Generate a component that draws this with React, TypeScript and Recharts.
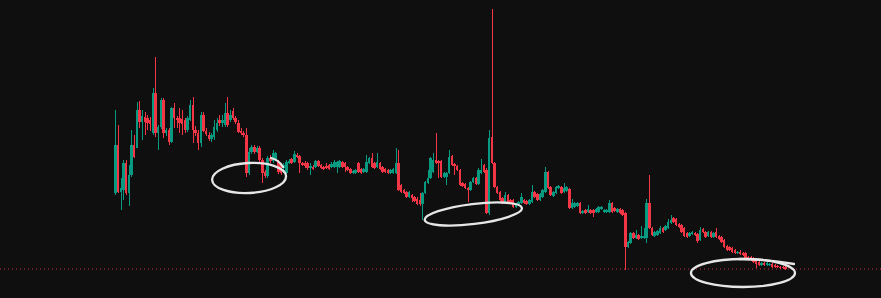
import React from 'react';
import { ComposedChart, Bar, XAxis, YAxis, ReferenceLine, ReferenceDot } from 'recharts';

const UP = '#089981';
const DOWN = '#f23645';
const INK = '#e6e6e6';

// OHLC per candle (arbitrary price units), oldest first
const opens = [
  107, 155, 108, 110, 137, 107, 125, 155, 152, 190,
  178, 183, 182, 180, 167, 207, 167, 173, 200, 167,
  170, 158, 192, 182, 182, 181, 180, 170, 180, 195,
  170, 167, 157, 185, 169, 165, 161, 163, 170, 180,
  177, 175, 187, 180, 189, 182, 177, 169, 167, 165,
  127, 148, 153, 148, 152, 140, 128, 124, 142, 139,
  140, 138, 135, 132, 127, 137, 141, 138, 145, 144,
  137, 137, 137, 132, 133, 133, 139, 135, 133, 134,
  135, 133, 133, 133, 133, 138, 137, 133, 131, 127,
  127, 137, 131, 128, 128, 137, 142, 137, 133, 137,
  133, 131, 130, 127, 127, 127, 137, 115, 110, 108,
  103, 105, 103, 101, 100, 96, 107, 117, 122, 128,
  140, 139, 139, 123, 123, 127, 144, 136, 134, 130,
  117, 116, 112, 110, 118, 122, 116, 127, 135, 130,
  87, 163, 137, 113, 108, 102, 97, 105, 100, 100,
  93, 96, 97, 100, 99, 96, 98, 108, 106, 100,
  103, 108, 128, 113, 104, 107, 112, 113, 108, 109,
  111, 92, 93, 94, 97, 87, 90, 88, 90, 90,
  88, 88, 91, 88, 88, 88, 97, 92, 88, 91,
  90, 87, 53, 57, 67, 62, 65, 62, 62, 62,
  97, 72, 64, 65, 67, 72, 70, 72, 77, 82,
  81, 76, 75, 72, 67, 64, 66, 67, 66, 60,
  71, 68, 64, 68, 63, 68, 64, 63, 60, 54,
  53, 52, 50, 47, 48, 47, 47, 43, 43, 42,
  40, 38, 35, 37, 35, 35, 36, 35, 34, 33,
  33, 33,
];

const highs = [
  190, 175, 122, 140, 140, 135, 170, 165, 198, 199,
  190, 188, 185, 183, 212, 243, 175, 202, 202, 172,
  172, 193, 197, 184, 192, 190, 182, 184, 200, 203,
  174, 170, 188, 188, 172, 168, 167, 180, 182, 185,
  185, 197, 203, 190, 192, 184, 180, 172, 169, 172,
  152, 155, 155, 154, 154, 142, 130, 144, 145, 150,
  148, 140, 137, 137, 140, 141, 142, 149, 147, 145,
  138, 139, 138, 137, 135, 140, 140, 136, 134, 137,
  136, 138, 140, 139, 140, 139, 138, 134, 132, 130,
  131, 138, 132, 132, 145, 143, 147, 138, 147, 138,
  134, 132, 131, 131, 132, 152, 150, 116, 111, 109,
  109, 106, 104, 103, 107, 108, 119, 130, 143, 147,
  167, 140, 140, 128, 128, 150, 145, 137, 135, 131,
  118, 117, 113, 119, 123, 123, 132, 141, 136, 132,
  170, 291, 138, 114, 109, 103, 108, 106, 101, 101,
  97, 99, 107, 101, 100, 101, 115, 109, 107, 107,
  111, 133, 129, 114, 109, 114, 115, 114, 117, 114,
  112, 101, 98, 98, 98, 90, 91, 95, 91, 91,
  92, 94, 94, 91, 91, 100, 98, 93, 92, 92,
  91, 88, 59, 68, 68, 70, 66, 74, 72, 101,
  125, 73, 69, 70, 74, 73, 75, 81, 85, 83,
  82, 77, 76, 73, 68, 68, 69, 68, 67, 73,
  72, 69, 69, 69, 68, 72, 65, 64, 61, 55,
  54, 53, 51, 49, 50, 48, 48, 44, 44, 43,
  41, 39, 38, 38, 38, 37, 37, 36, 35, 34,
  34, 34,
];

const lows = [
  105, 107, 90, 100, 105, 94, 123, 142, 152, 172,
  160, 165, 170, 169, 165, 163, 150, 171, 162, 164,
  155, 157, 172, 172, 167, 165, 167, 168, 179, 157,
  164, 150, 153, 168, 164, 159, 158, 160, 168, 174,
  173, 173, 173, 178, 180, 176, 167, 165, 163, 123,
  125, 146, 146, 147, 138, 117, 122, 122, 137, 137,
  139, 126, 125, 130, 126, 136, 136, 137, 142, 127,
  134, 132, 130, 125, 130, 132, 133, 131, 130, 131,
  130, 132, 132, 127, 132, 132, 128, 129, 126, 126,
  126, 127, 126, 127, 127, 136, 132, 131, 132, 130,
  127, 127, 126, 126, 126, 126, 109, 107, 106, 102,
  102, 98, 98, 95, 94, 80, 106, 116, 121, 127,
  136, 122, 122, 122, 115, 126, 134, 125, 129, 114,
  113, 111, 98, 109, 117, 115, 115, 126, 127, 86,
  85, 136, 112, 106, 99, 96, 96, 97, 96, 92,
  92, 95, 96, 96, 95, 95, 97, 102, 99, 99,
  102, 107, 111, 104, 103, 106, 111, 106, 107, 108,
  91, 91, 92, 93, 86, 86, 86, 87, 86, 83,
  87, 87, 90, 87, 87, 87, 87, 88, 87, 86,
  84, 30, 52, 56, 61, 61, 60, 61, 61, 57,
  71, 64, 63, 64, 66, 67, 69, 71, 76, 77,
  74, 72, 67, 63, 62, 63, 65, 64, 57, 59,
  67, 62, 63, 62, 62, 62, 60, 57, 52, 49,
  49, 47, 46, 46, 45, 44, 41, 40, 39, 37,
  32, 34, 34, 34, 34, 34, 32, 32, 32, 31,
  31, 30,
];

const closes = [
  155, 108, 112, 137, 107, 125, 155, 143, 190, 178,
  184, 178, 177, 176, 207, 167, 173, 200, 167, 170,
  158, 192, 182, 180, 177, 176, 170, 182, 195, 170,
  167, 157, 185, 169, 166, 161, 165, 173, 177, 177,
  180, 187, 175, 185, 182, 178, 168, 167, 165, 127,
  148, 153, 148, 152, 140, 127, 124, 142, 139, 147,
  147, 128, 127, 135, 138, 139, 137, 146, 143, 137,
  135, 134, 132, 134, 131, 139, 134, 132, 131, 132,
  131, 136, 138, 138, 139, 133, 133, 130, 127, 129,
  130, 128, 127, 131, 138, 142, 133, 132, 138, 131,
  128, 128, 127, 130, 131, 137, 110, 108, 107, 103,
  108, 102, 99, 96, 96, 107, 118, 122, 142, 140,
  137, 137, 123, 127, 127, 143, 135, 134, 130, 115,
  114, 112, 110, 118, 122, 116, 130, 130, 128, 87,
  162, 137, 113, 107, 100, 97, 105, 98, 97, 93,
  96, 98, 103, 97, 96, 100, 108, 103, 100, 106,
  110, 128, 112, 105, 108, 113, 114, 107, 112, 113,
  92, 97, 97, 97, 87, 89, 87, 91, 87, 87,
  91, 93, 93, 90, 90, 97, 88, 89, 91, 87,
  85, 53, 58, 67, 62, 65, 61, 64, 64, 97,
  72, 65, 68, 69, 72, 68, 74, 78, 80, 78,
  75, 73, 68, 64, 63, 67, 68, 65, 59, 70,
  68, 63, 68, 63, 67, 63, 61, 58, 53, 50,
  50, 48, 47, 48, 46, 45, 42, 41, 40, 38,
  36, 35, 37, 35, 37, 36, 33, 33, 33, 32,
  32, 31,
];

const candles = opens.map((o, i) => ({
  i,
  open: o,
  high: highs[i],
  low: lows[i],
  close: closes[i],
}));

const lastClose = closes[closes.length - 1];

// hand-drawn circles: [candle index, price]
const circleA = { i: 50, p: 122 };
const circleB = { i: 134, p: 86 };
const circleC = { i: 235, p: 27 };

const Candle = (props: any) => {
  const { x, y, width, height, payload } = props;
  if (!payload) return null;
  const { open, close, high, low } = payload;
  const top = Math.min(y, y + height);
  const h = Math.abs(height);
  const py = (v: number) => (high === low ? top : top + ((high - v) / (high - low)) * h);
  const color = close >= open ? UP : DOWN;
  const mid = x + width / 2;
  const x0 = Math.round(mid - 1.25);
  const x1 = Math.max(x0 + 2, Math.round(mid + 1.25));
  const wx = x0 + Math.floor((x1 - x0) / 2) + 0.5;
  const bTop = py(Math.max(open, close));
  const bBot = py(Math.min(open, close));
  return (
    <g>
      <line x1={wx} x2={wx} y1={top} y2={top + h} stroke={color} strokeWidth={1} />
      <rect x={x0} y={bTop} width={x1 - x0} height={Math.max(1, bBot - bTop)} fill={color} />
    </g>
  );
};

const ring = (rx: number, ry: number, rot: number, tail?: string) => (props: any) => {
  const { cx, cy } = props;
  return (
    <g>
      <ellipse
        cx={cx}
        cy={cy}
        rx={rx}
        ry={ry}
        fill="none"
        stroke={INK}
        strokeWidth={2.3}
        transform={`rotate(${rot} ${cx} ${cy})`}
      />
      {tail && (
        <path
          d={tail.replace(/X([-\d.]+)/g, (_, v) => String(cx + Number(v))).replace(/Y([-\d.]+)/g, (_, v) => String(cy + Number(v)))}
          fill="none"
          stroke={INK}
          strokeWidth={2.3}
          strokeLinecap="round"
        />
      )}
    </g>
  );
};

const App = () => {
  return (
    <div style={{ position: 'fixed', left: 0, top: 0, width: 881, height: 298, background: '#0f0f0f' }}>
      <ComposedChart width={881} height={298} data={candles} margin={{ top: 0, right: 0, bottom: 0, left: 0 }}>
        <XAxis dataKey="i" type="number" domain={[-43.3, 286.7]} hide />
        <YAxis type="number" domain={[2, 300]} hide />
        <ReferenceLine y={lastClose} stroke={DOWN} strokeDasharray="1 3" strokeOpacity={0.85} />
        <Bar
          dataKey={(d: any) => [d.low, d.high]}
          barSize={3}
          shape={<Candle />}
          isAnimationActive={false}
        />
        <ReferenceDot
          x={circleA.i}
          y={circleA.p}
          shape={ring(37, 15, -3, 'MX22 Y-20 QX30 Y-18 X34 Y-11')}
        />
        <ReferenceDot x={circleB.i} y={circleB.p} shape={ring(49, 10, -7)} />
        <ReferenceDot
          x={circleC.i}
          y={circleC.p}
          shape={ring(52, 14, 0, 'MX-4 Y-14 QX25 Y-14 X51 Y-9')}
        />
      </ComposedChart>
    </div>
  );
};

export default App;
